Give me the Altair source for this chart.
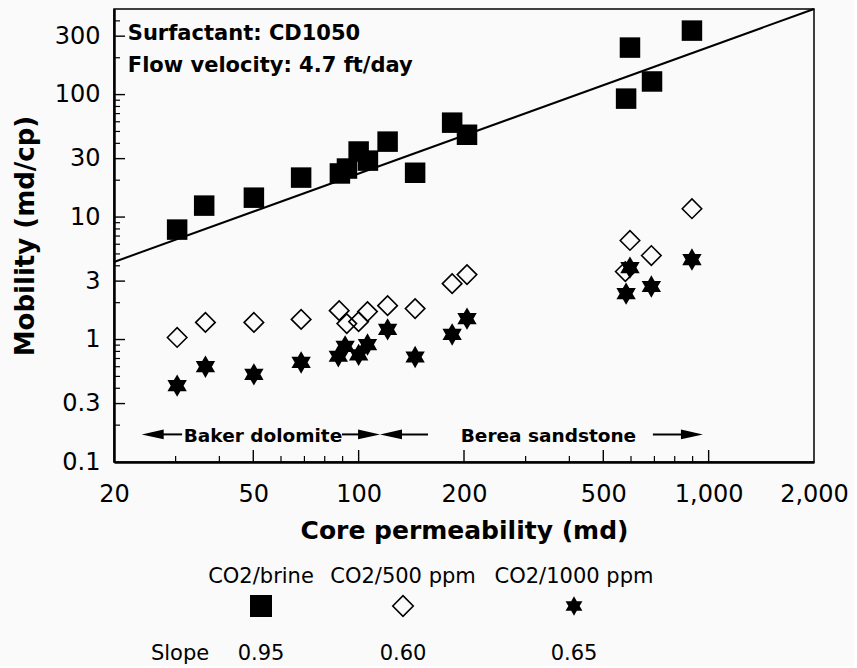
import altair as alt
import pandas as pd

# ---------------- data ----------------
perm_brine = [30.3, 36.2, 50.2, 68.5, 88.4, 92.6, 100, 106.3, 121, 145, 185, 204, 581, 596, 689, 896]
mob_brine = [7.9, 12.4, 14.4, 21.0, 22.7, 24.9, 34.3, 28.9, 41.3, 23.0, 59, 47, 92.7, 242, 128, 333]

perm_500 = [30.3, 36.5, 50.2, 68.5, 88, 92.5, 100, 106, 121, 145, 185, 204, 578, 596, 686, 896]
mob_500 = [1.04, 1.38, 1.38, 1.46, 1.72, 1.35, 1.40, 1.69, 1.89, 1.79, 2.86, 3.39, 3.59, 6.44, 4.85, 11.7]

perm_1000 = [30.3, 36.5, 50.2, 68.5, 87.5, 91.5, 100, 106, 121, 145, 185, 204, 581, 596, 686, 896]
mob_1000 = [0.42, 0.60, 0.52, 0.65, 0.73, 0.88, 0.75, 0.91, 1.21, 0.72, 1.10, 1.48, 2.37, 3.87, 2.71, 4.5]

fit_perm = [20, 2000]
fit_mob = [4.3, 500]

x_label_vals = [20, 50, 100, 200, 500, 1000, 2000]
y_label_vals = [0.1, 0.3, 1, 3, 10, 30, 100, 300]
x_major = [50, 100, 200, 500, 1000]
x_minor = [30, 40, 60, 70, 80, 90, 300, 400, 600, 700, 800, 900]
y_major = [0.3, 1, 3, 10, 30, 100, 300]
y_minor = [0.2, 0.4, 0.5, 0.6, 0.7, 0.8, 0.9, 2, 4, 5, 6, 7, 8, 9,
           20, 40, 50, 60, 70, 80, 90, 200, 400]

info_lines = ["Surfactant: CD1050", "Flow velocity: 4.7 ft/day"]
info_perm = [21.9, 21.9]
info_mob = [281, 154]

region_names = ["Baker dolomite", "Berea sandstone"]
region_perm = [53.3, 348.6]
region_mob = [0.147, 0.147]

arrow_tail = [31.3, 89.6, 157.8, 693]
arrow_head = [25.8, 107.1, 123.7, 896]
arrow_dir = ["L", "R", "L", "R"]
arrow_mob = [0.168, 0.168, 0.168, 0.168]

series_names = ["CO2/brine", "CO2/500 ppm", "CO2/1000 ppm"]
slope_vals = ["0.95", "0.60", "0.65"]

# ---------------- layout / style ----------------
W, H = 700, 453
FONT = "DejaVu Sans"
xs = alt.Scale(type="log", domain=[20, 2000], nice=False)
ys = alt.Scale(type="log", domain=[0.1, 500], nice=False)
HEX = ("M0,-1L0.2887,-0.5L0.866,-0.5L0.577,0L0.866,0.5L0.2887,0.5L0,1"
       "L-0.2887,0.5L-0.866,0.5L-0.577,0L-0.866,-0.5L-0.2887,-0.5Z")
ARROW_R = "M1,0L-1,-0.45L-1,0.45Z"
ARROW_L = "M-1,0L1,-0.45L1,0.45Z"
leg_px = [147, 289, 460]   # legend column centres (pixels from plot left)
slope_label_px = 66
row_label_py, row_sym_py, row_slope_py = 568, 597, 645

x_axis = alt.Axis(values=x_label_vals, format=",", ticks=False, grid=False,
                  domainColor="black", domainWidth=2.5,
                  labelFont=FONT, labelFontSize=24, labelColor="black",
                  labelPadding=20, labelFlush=False, labelOverlap=False,
                  title="Core permeability (md)", titleFont=FONT, titleFontSize=25,
                  titleFontWeight="bold", titleColor="black", titlePadding=12)
y_axis = alt.Axis(values=y_label_vals, format="~g", ticks=False, grid=False,
                  domainColor="black", domainWidth=2.5,
                  labelFont=FONT, labelFontSize=24, labelColor="black",
                  labelPadding=14, labelFlush=False, labelOverlap=False,
                  title="Mobility (md/cp)", titleFont=FONT, titleFontSize=26,
                  titleFontWeight="bold", titleColor="black", titlePadding=16)

df_brine = pd.DataFrame({"perm": perm_brine, "mob": mob_brine})
df_500 = pd.DataFrame({"perm": perm_500, "mob": mob_500})
df_1000 = pd.DataFrame({"perm": perm_1000, "mob": mob_1000})
df_fit = pd.DataFrame({"perm": fit_perm, "mob": fit_mob})

fit = alt.Chart(df_fit).mark_line(color="black", strokeWidth=2).encode(
    x=alt.X("perm:Q", scale=xs, axis=x_axis),
    y=alt.Y("mob:Q", scale=ys, axis=y_axis),
)
squares = alt.Chart(df_brine).mark_square(size=420, color="black", opacity=1).encode(
    x=alt.X("perm:Q", scale=xs, axis=None), y=alt.Y("mob:Q", scale=ys, axis=None))
diamonds = alt.Chart(df_500).mark_point(shape="diamond", size=380, filled=False,
                                        color="black", strokeWidth=1.6, opacity=1).encode(
    x=alt.X("perm:Q", scale=xs, axis=None), y=alt.Y("mob:Q", scale=ys, axis=None))
stars = alt.Chart(df_1000).mark_point(shape=HEX, size=500, filled=True,
                                      color="black", opacity=1).encode(
    x=alt.X("perm:Q", scale=xs, axis=None), y=alt.Y("mob:Q", scale=ys, axis=None))

df_ytm = pd.DataFrame({"v": y_major})
df_ytn = pd.DataFrame({"v": y_minor})
df_xtm = pd.DataFrame({"v": x_major})
df_xtn = pd.DataFrame({"v": x_minor})
ytick_major = alt.Chart(df_ytm).mark_rule(color="black", strokeWidth=1.4).encode(
    y=alt.Y("v:Q", scale=ys, axis=None), x=alt.value(0), x2=alt.value(11))
ytick_minor = alt.Chart(df_ytn).mark_rule(color="black", strokeWidth=1.2).encode(
    y=alt.Y("v:Q", scale=ys, axis=None), x=alt.value(0), x2=alt.value(6))
xtick_major = alt.Chart(df_xtm).mark_rule(color="black", strokeWidth=1.4).encode(
    x=alt.X("v:Q", scale=xs, axis=None), y=alt.value(H), y2=alt.value(H - 12))
xtick_minor = alt.Chart(df_xtn).mark_rule(color="black", strokeWidth=1.2).encode(
    x=alt.X("v:Q", scale=xs, axis=None), y=alt.value(H), y2=alt.value(H - 6))

df_info = pd.DataFrame({"perm": info_perm, "mob": info_mob, "t": info_lines})
info = alt.Chart(df_info).mark_text(align="left", baseline="alphabetic", font=FONT,
                                    fontSize=21, fontWeight="bold", color="black").encode(
    x=alt.X("perm:Q", scale=xs, axis=None), y=alt.Y("mob:Q", scale=ys, axis=None), text="t:N")

df_reg = pd.DataFrame({"perm": region_perm, "mob": region_mob, "t": region_names})
regions = alt.Chart(df_reg).mark_text(align="center", baseline="alphabetic", font=FONT,
                                      fontSize=18.5, fontWeight="bold", color="black").encode(
    x=alt.X("perm:Q", scale=xs, axis=None), y=alt.Y("mob:Q", scale=ys, axis=None), text="t:N")

df_arr = pd.DataFrame({"tail": arrow_tail, "head": arrow_head, "dir": arrow_dir, "mob": arrow_mob})
arrow_lines = alt.Chart(df_arr).mark_rule(color="black", strokeWidth=2).encode(
    x=alt.X("tail:Q", scale=xs, axis=None), x2="head:Q",
    y=alt.Y("mob:Q", scale=ys, axis=None))
arrow_heads = alt.Chart(df_arr).mark_point(filled=True, color="black", size=484, opacity=1).encode(
    x=alt.X("head:Q", scale=xs, axis=None), y=alt.Y("mob:Q", scale=ys, axis=None),
    shape=alt.Shape("dir:N", scale=alt.Scale(domain=["L", "R"], range=[ARROW_L, ARROW_R]),
                    legend=None))

# ---------------- custom legend below the plot ----------------
df_leg_lbl = pd.DataFrame({"px": leg_px, "py": [row_label_py] * 3, "t": series_names})
df_leg_slope = pd.DataFrame({"px": [slope_label_px] + leg_px, "py": [row_slope_py] * 4,
                             "t": ["Slope"] + slope_vals})
leg_text = alt.Chart(pd.concat([df_leg_lbl, df_leg_slope])).mark_text(
    align="center", baseline="middle", font=FONT, fontSize=21, color="black").encode(
    x=alt.X("px:Q", scale=None, axis=None), y=alt.Y("py:Q", scale=None, axis=None), text="t:N")

df_leg_sym = pd.DataFrame({"px": leg_px, "py": [row_sym_py] * 3, "s": series_names})
leg_sq = alt.Chart(df_leg_sym.iloc[[0]]).mark_square(size=484, color="black", opacity=1).encode(
    x=alt.X("px:Q", scale=None, axis=None), y=alt.Y("py:Q", scale=None, axis=None))
leg_di = alt.Chart(df_leg_sym.iloc[[1]]).mark_point(shape="diamond", size=420, filled=False,
                                                    color="black", strokeWidth=1.6, opacity=1).encode(
    x=alt.X("px:Q", scale=None, axis=None), y=alt.Y("py:Q", scale=None, axis=None))
leg_st = alt.Chart(df_leg_sym.iloc[[2]]).mark_point(shape=HEX, size=380, filled=True,
                                                    color="black", opacity=1).encode(
    x=alt.X("px:Q", scale=None, axis=None), y=alt.Y("py:Q", scale=None, axis=None))

chart = alt.layer(
    fit, ytick_major, ytick_minor, xtick_major, xtick_minor,
    squares, diamonds, stars, info, regions, arrow_lines, arrow_heads,
    leg_text, leg_sq, leg_di, leg_st,
).resolve_scale(x="independent", y="independent").properties(
    width=W, height=H,
    padding={"left": 12, "top": 5, "right": 5, "bottom": 2},
    background="#fafafa",
).configure_view(stroke="black", strokeWidth=1.5)

chart.save("out.html", embed_options={"renderer": "svg", "actions": False})
